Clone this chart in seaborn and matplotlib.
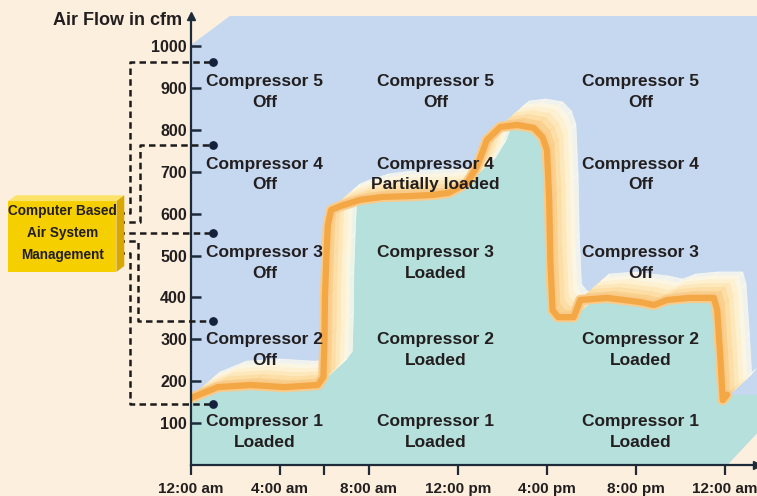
import numpy as np
import pandas as pd
import matplotlib
matplotlib.use("Agg")
import matplotlib.pyplot as plt
import matplotlib.markers as mmarkers
import seaborn as sns
from matplotlib.patches import Polygon

# ---------------- data ----------------
hours = [0, 1.2, 2.7, 4.2, 5.7, 5.95, 6.0, 6.02, 6.08, 6.15, 6.3, 6.7, 7.6, 8.6, 9.8,
         10.9, 11.6, 12.4, 12.85, 13.3, 13.9, 14.65, 15.4, 15.8, 16.0, 16.1, 16.15,
         16.25, 16.5, 17.2, 17.5, 18.7, 20.2, 20.8, 21.4, 22.4, 23.5, 23.65, 23.8,
         23.9, 24.1]
cfm = [160, 186, 191, 186, 191, 210, 300, 400, 490, 573, 609, 618, 633, 640, 642,
       645, 650, 673, 712, 776, 807, 812, 805, 783, 752, 633, 490,
       370, 353, 353, 394, 399, 389, 382, 394, 399, 399, 370, 251,
       155, 168]

y_ticks = [100, 200, 300, 400, 500, 600, 700, 800, 900, 1000]
x_ticks = [0, 4, 6, 8, 12, 16, 20, 24]
x_tick_labels = ["12:00 am", "4:00 am", "", "8:00 am", "12:00 pm", "4:00 pm", "8:00 pm", "12:00 am"]

band_limits = [146, 344, 554, 764, 962]          # connector levels (cfm)
label_cols = [3.3, 11.0, 20.2]                     # hours
label_rows = [891, 693, 482, 275, 79]              # cfm
compressors = ["Compressor 5", "Compressor 4", "Compressor 3", "Compressor 2", "Compressor 1"]
states = [
    ["Off", "Off", "Off", "Off", "Loaded"],
    ["Off", "Partially loaded", "Loaded", "Loaded", "Loaded"],
    ["Off", "Off", "Off", "Loaded", "Loaded"],
]
box_text = "Computer Based\nAir System\nManagement"

# ---------------- style ----------------
sns.set_style("ticks")
plt.rcParams["font.family"] = ["Liberation Sans", "DejaVu Sans"]
plt.rcParams["font.weight"] = "bold"

BG = "#fdefde"
INK = "#231f20"
AXC = "#1d2a3a"
BLUE = "#c5d8ef"
TEAL = "#b5e0dc"

fig = plt.figure(figsize=(7.57, 4.96), dpi=100, facecolor=BG)
ax = fig.add_axes([191 / 757, 31 / 496, 566 / 757, 449 / 496])
ax.set_facecolor(BG)
ax.set_axisbelow(False)
XMAX, YMAX = 25.44, 1072
ax.set_xlim(0, XMAX)
ax.set_ylim(0, YMAX)

# 3D box background
box = Polygon([(0, 0), (0, 1003), (1.75, YMAX), (XMAX, YMAX), (XMAX, 76), (24.1, 0)],
              closed=True, facecolor=BLUE, edgecolor="none", zorder=0)
ax.add_patch(box)

df = pd.DataFrame({"hours": hours, "cfm": cfm})
hx = list(df["hours"]) + [XMAX]
hy = list(df["cfm"]) + [df["cfm"].iloc[-1]]
teal = ax.fill_between(hx, 0, hy, color=TEAL, lw=0, zorder=1)
teal.set_clip_path(box)

# ribbon (3D extrusion of the line)
dx, dy = 1.3, 62
layers = [(1.0, "#fffcf0"), (0.85, "#fff7e0"), (0.7, "#fff0cc"), (0.55, "#fde6b6"),
          (0.4, "#fcdb9f"), (0.25, "#facd88")]
for k, col in layers:
    for i in range(len(df) - 1):
        x0, y0 = df["hours"].iloc[i], df["cfm"].iloc[i]
        x1, y1 = df["hours"].iloc[i + 1], df["cfm"].iloc[i + 1]
        q = Polygon([(x0, y0), (x1, y1), (x1 + k * dx, y1 + k * dy), (x0 + k * dx, y0 + k * dy)],
                    closed=True, facecolor=col, edgecolor=col, lw=0.5, alpha=0.75, zorder=2)
        ax.add_patch(q)
        q.set_clip_path(box)

# the air flow line
sns.lineplot(data=df, x="hours", y="cfm", sort=False, estimator=None, ax=ax,
             color="#f9cb8a", lw=7.5, zorder=3, solid_capstyle="round")
sns.lineplot(data=df, x="hours", y="cfm", sort=False, estimator=None, ax=ax,
             color="#f4a745", lw=4.5, zorder=4, solid_capstyle="round")

# compressor labels
for cx, col_states in zip(label_cols, states):
    for ry, name, st in zip(label_rows, compressors, col_states):
        ax.text(cx, ry, f"{name}\n{st}", ha="center", va="center", fontsize=12.5,
                fontweight="bold", color=INK, linespacing=1.45, zorder=6)

# axes
for s in ["top", "right"]:
    ax.spines[s].set_visible(False)
for s in ["left", "bottom"]:
    ax.spines[s].set_color(AXC)
    ax.spines[s].set_linewidth(1.6)
    ax.spines[s].set_zorder(7)
ax.plot([0], [1], marker="^", ms=6, color=AXC, transform=ax.transAxes, clip_on=False, zorder=8)
ax.plot([1], [0], marker=">", ms=6, color=AXC, transform=ax.transAxes, clip_on=False, zorder=8)

ax.set_yticks(y_ticks)
ax.set_yticklabels([str(v) for v in y_ticks])
ax.set_xticks(x_ticks)
ax.set_xticklabels(x_tick_labels)
ax.yaxis.set_tick_params(which="major", left=True, right=False, direction="in", length=0,
                         width=1.6, color=AXC, pad=3, labelsize=11.5, labelcolor=INK)
ax.xaxis.set_tick_params(which="major", bottom=True, top=False, direction="out", length=7,
                         width=1.6, color=AXC, pad=5, labelsize=11, labelcolor=INK)
# inward y tick marks drawn at the tick positions
ax.plot([0] * len(y_ticks), y_ticks, ls="none", marker=mmarkers.TICKRIGHT, ms=7,
        mew=1.8, mec=AXC, color=AXC, clip_on=False, zorder=9)
for t in ax.get_xticklabels() + ax.get_yticklabels():
    t.set_fontweight("bold")
ax.set_xlabel("")
ax.set_ylabel("")

ax.text(-0.4, 1062, "Air Flow in cfm", ha="right", va="center", fontsize=13,
        fontweight="bold", color=INK, clip_on=False)

# connectors from the management box
xb = -3.28
xo, xi_up, xi_dn = -2.74, -2.29, -2.38
xd = 0.99
conn = [
    ([xb, xo, xo, xd], [602, 602, band_limits[4], band_limits[4]]),
    ([xb, xi_up, xi_up, xd], [580, 580, band_limits[3], band_limits[3]]),
    ([xb, xd], [band_limits[2], band_limits[2]]),
    ([xb, xi_dn, xi_dn, xd], [535, 535, band_limits[1], band_limits[1]]),
    ([xb, xo, xo, xd], [506, 506, band_limits[0], band_limits[0]]),
]
for xs, ys in conn:
    ax.plot(xs, ys, color="#1b1b1b", lw=1.8, ls=(0, (2.6, 1.7)), clip_on=False, zorder=9)
ax.scatter([xd] * len(band_limits), band_limits, s=28, color="#14213d", zorder=10, clip_on=False)

# yellow 3D box
bx0, bx1, by0, by1 = -8.22, -3.35, 461, 630
face = Polygon([(bx0, by0), (bx1, by0), (bx1, by1), (bx0, by1)], closed=True,
               facecolor="#f6cf00", edgecolor="none", clip_on=False, zorder=9)
top = Polygon([(bx0, by1), (bx1, by1), (bx1 + 0.35, by1 + 14), (bx0 + 0.35, by1 + 14)], closed=True,
              facecolor="#fbe36a", edgecolor="none", clip_on=False, zorder=9)
side = Polygon([(bx1, by0), (bx1 + 0.35, by0 + 14), (bx1 + 0.35, by1 + 14), (bx1, by1)], closed=True,
               facecolor="#d9a800", edgecolor="none", clip_on=False, zorder=9)
for p in (face, top, side):
    ax.add_patch(p)
ax.text((bx0 + bx1) / 2, 554, box_text, ha="center", va="center", fontsize=9.8,
        fontweight="bold", color=INK, linespacing=1.75, clip_on=False, zorder=10)

fig.savefig("out.png", dpi=100, facecolor=BG)
